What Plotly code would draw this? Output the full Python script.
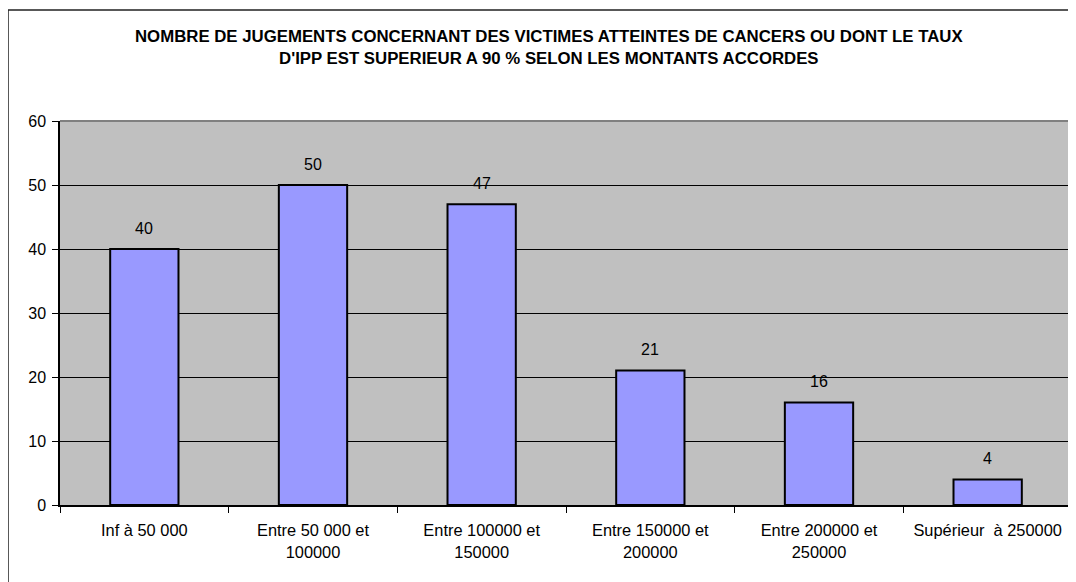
import plotly.graph_objects as go

categories = ["Inf à 50 000", "Entre 50 000 et<br>100000", "Entre 100000 et<br>150000",
              "Entre 150000 et<br>200000", "Entre 200000 et<br>250000", "Supérieur  à 250000"]
values = [40, 50, 47, 21, 16, 4]
y_ticks = [0, 10, 20, 30, 40, 50, 60]
title_text = ("NOMBRE DE JUGEMENTS CONCERNANT DES VICTIMES ATTEINTES DE CANCERS OU DONT LE TAUX<br>"
              "D'IPP EST SUPERIEUR A 90 % SELON LES MONTANTS ACCORDES")

FONT = "Liberation Sans, Arial, sans-serif"

# page body has an 8px margin; compensate
OFF = 8
W, H = 1076 - OFF, 582 - OFF
L, T, R, B = 60 - OFF, 121 - OFF, 4, 77
pw = W - L - R
ph = H - T - B

def px_x(x):
    return (x - OFF - L) / pw

def px_y(y):
    return (H - B - (y - OFF)) / ph

fig = go.Figure()
fig.add_trace(go.Bar(
    x=categories, y=values,
    marker=dict(color="#9999FF", line=dict(color="black", width=2)),
    width=0.405,
    hoverinfo="skip",
))

for c, v in zip(categories, values):
    fig.add_annotation(x=c, y=v, text=str(v), showarrow=False, yshift=21,
                       font=dict(family=FONT, size=16, color="black"))

# outer border
fig.add_shape(type="rect", xref="paper", yref="paper",
              x0=px_x(8), x1=px_x(1090), y0=px_y(600), y1=px_y(10),
              line=dict(color="#222222", width=1.5), fillcolor="rgba(0,0,0,0)", layer="above")
# plot area top/right gray border
fig.add_shape(type="line", xref="paper", yref="paper", x0=0, x1=1, y0=1, y1=1,
              line=dict(color="#808080", width=2), layer="below")
fig.add_shape(type="line", xref="paper", yref="paper", x0=1, x1=1, y0=0, y1=1,
              line=dict(color="#808080", width=2), layer="below")

fig.add_annotation(xref="paper", yref="paper", x=px_x(549), y=px_y(47),
                   text="<b>" + title_text + "</b>", showarrow=False,
                   font=dict(family=FONT, size=16.8, color="black"),
                   xanchor="center", yanchor="middle", align="center")

fig.update_layout(
    width=W, height=H,
    margin=dict(l=L, r=R, t=T, b=B, pad=0),
    paper_bgcolor="white", plot_bgcolor="#C0C0C0",
    showlegend=False,
    font=dict(family=FONT, size=16, color="black"),
    bargap=0.595,
)
fig.update_xaxes(
    showline=True, linecolor="black", linewidth=1.5,
    ticks="outside", tickson="boundaries", ticklen=6, tickcolor="black", tickwidth=1,
    showgrid=False, tickfont=dict(family=FONT, size=16.4, color="black"),
    ticklabelstandoff=10,
)
fig.update_yaxes(
    range=[0, 60], tickvals=y_ticks, showline=True, linecolor="black", linewidth=1.5,
    ticks="outside", ticklen=6, tickcolor="black", tickwidth=1,
    showgrid=True, gridcolor="black", gridwidth=1, zeroline=False,
    tickfont=dict(family=FONT, size=16, color="black"), ticklabelstandoff=3,
)

fig.write_html("out.html")
